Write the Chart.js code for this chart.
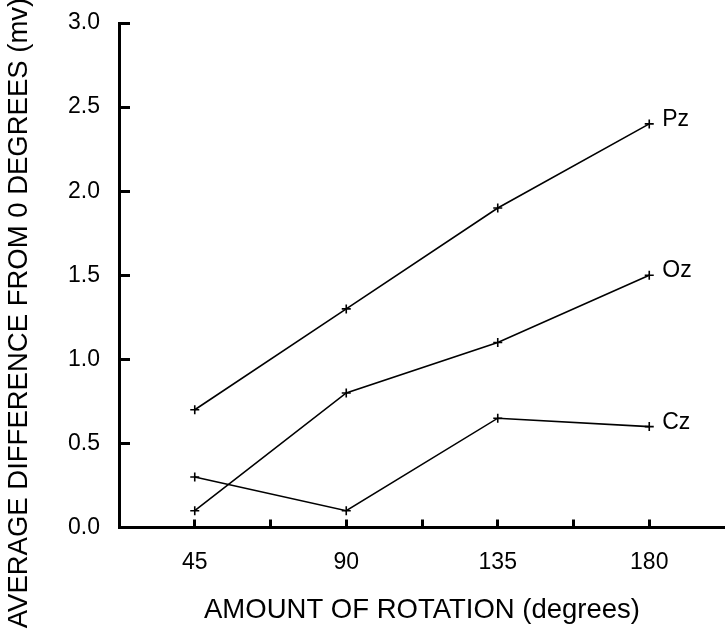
<!DOCTYPE html>
<html><head><meta charset="utf-8">
<script src="https://cdn.jsdelivr.net/npm/chart.js@4/dist/chart.umd.min.js"></script>
<style>html,body{margin:0;padding:0;background:#fff;}#wrap{width:725px;height:633px;}</style>
</head><body><div id="wrap"><canvas id="c" width="725" height="633"></canvas></div>
<script>
// ---- data ----
const rotations = [45, 90, 135, 180];
const xTickLabels = ['45', '90', '135', '180'];
const seriesNames = ['Pz', 'Oz', 'Cz'];
const pzValues = [0.7, 1.3, 1.9, 2.4];
const ozValues = [0.1, 0.8, 1.1, 1.5];
const czValues = [0.3, 0.1, 0.65, 0.6];
const yTitle = 'AVERAGE DIFFERENCE FROM 0 DEGREES (mv)';
const xTitle = 'AMOUNT OF ROTATION (degrees)';

const FONT = '"Liberation Sans", Arial, sans-serif';
const seriesValues = [pzValues, ozValues, czValues];

const datasets = seriesNames.map((name, i) => ({
  label: name,
  data: rotations.map((r, j) => ({x: r, y: seriesValues[i][j]})),
  borderColor: '#000',
  backgroundColor: '#000',
  borderWidth: 1.6,
  pointStyle: 'cross',
  pointRadius: 4.5,
  pointBorderWidth: 1.6,
  pointBorderColor: '#000',
  tension: 0,
  fill: false,
  clip: false
}));

const decor = {
  id: 'decor',
  beforeDraw(chart) {
    const ctx = chart.ctx;
    ctx.save();
    ctx.fillStyle = '#fff';
    ctx.fillRect(0, 0, chart.width, chart.height);
    ctx.restore();
  },
  afterDraw(chart) {
    const ctx = chart.ctx;
    const xs = chart.scales.x, ys = chart.scales.y;
    const area = chart.chartArea;
    ctx.save();
    ctx.strokeStyle = '#000';
    ctx.lineWidth = 3;
    ctx.lineCap = 'butt';
    // inward y ticks
    ys.ticks.forEach(t => {
      const py = Math.round(ys.getPixelForValue(t.value) - 1.5) + 1.5;
      ctx.beginPath();
      ctx.moveTo(area.left, py);
      ctx.lineTo(area.left + 11, py);
      ctx.stroke();
    });
    // inward x ticks
    xs.ticks.forEach(t => {
      if (t.value < 44 || t.value > 181) return;
      const px = Math.round(xs.getPixelForValue(t.value) - 1.5) + 1.5;
      ctx.beginPath();
      ctx.moveTo(px, area.bottom);
      ctx.lineTo(px, area.bottom - 8);
      ctx.stroke();
    });
    // series labels
    ctx.fillStyle = '#000';
    ctx.font = '23px ' + FONT;
    ctx.textAlign = 'left';
    ctx.textBaseline = 'alphabetic';
    chart.data.datasets.forEach((ds, i) => {
      const meta = chart.getDatasetMeta(i);
      const last = meta.data[meta.data.length - 1];
      ctx.fillText(ds.label, last.x + 13, last.y + 2);
    });
    // y title
    ctx.font = '27.5px ' + FONT;
    ctx.translate(27, 313);
    ctx.rotate(-Math.PI / 2);
    ctx.textAlign = 'center';
    ctx.fillText(yTitle, 0, 0);
    ctx.restore();
  }
};

new Chart(document.getElementById('c'), {
  type: 'line',
  data: {datasets},
  options: {
    responsive: false,
    animation: false,
    devicePixelRatio: 1,
    layout: {autoPadding: false, padding: {top: 23, right: 0, left: 0, bottom: 0}},
    plugins: {legend: {display: false}, tooltip: {enabled: false}},
    scales: {
      x: {
        type: 'linear',
        min: 22.5, max: 202.5,
        grid: {display: false, drawTicks: false},
        border: {display: true, color: '#000', width: 3},
        ticks: {
          stepSize: 22.5, autoSkip: false, maxRotation: 0, padding: 21,
          color: '#000', font: {family: FONT, size: 23},
          callback: (v) => {
            const k = v / 45;
            if (Math.abs(k - Math.round(k)) < 1e-6 && k >= 1 && k <= 4) return xTickLabels[Math.round(k) - 1];
            return '';
          }
        },
        title: {display: true, text: xTitle, color: '#000', font: {family: FONT, size: 27.5}, padding: {top: 0, bottom: 6}},
        afterFit(s) { s.height = 105.5; s.paddingLeft = 0; s.paddingRight = 0; }
      },
      y: {
        type: 'linear',
        min: 0, max: 3,
        grid: {display: false, drawTicks: false},
        border: {display: true, color: '#000', width: 3},
        ticks: {
          stepSize: 0.5, padding: 19, color: '#000', font: {family: FONT, size: 23},
          callback: (v) => Number(v).toFixed(1)
        },
        afterFit(s) { s.width = 119; s.paddingTop = 0; s.paddingBottom = 0; }
      }
    }
  },
  plugins: [decor]
});
</script>
</body></html>
